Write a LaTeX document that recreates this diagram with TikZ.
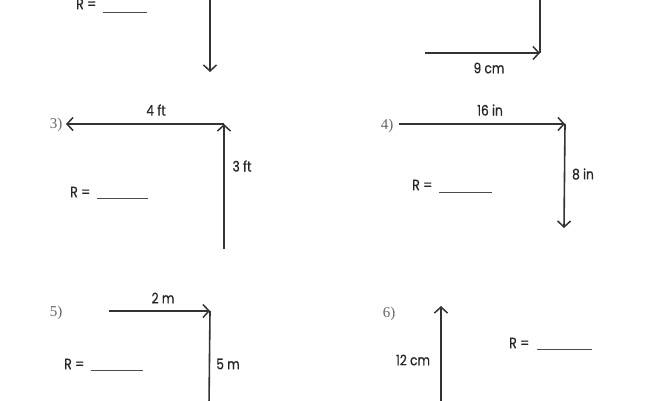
\documentclass[tikz,border=0pt]{standalone}
\usepackage{fontspec}
\setmainfont{Poppins}[FakeStretch=0.84,FakeBold=0.6]
\newfontfamily\numfont{Liberation Serif}
\usetikzlibrary{arrows.meta}
\tikzset{
  vec/.style={line width=1.6pt, draw=black!80, -{Straight Barb[length=6pt,width=13pt,line width=1.5pt]}},
  seg/.style={line width=1.6pt, draw=black!80},
  lbl/.style={font=\fontsize{14.5}{16}\selectfont, text=black!85, inner sep=0pt},
  rlbl/.style={font=\fontsize{15}{17}\selectfont, text=black!85, inner sep=0pt, anchor=west},
  num/.style={font=\numfont\fontsize{15}{16}\selectfont, text=black!60, inner sep=0pt},
  blank/.style={line width=0.9pt, draw=black!70}
}
\begin{document}
\begin{tikzpicture}[x=1pt,y=-1pt]
\useasboundingbox (0,0) rectangle (650,400);
\clip (0,0) rectangle (650,400);
% Panel 1
\coordinate (a1s) at (210,-5);
\coordinate (a1e) at (210,72);
\draw[vec] (a1s) -- (a1e);
\node[rlbl] (r1) at (76,4) {R =};
\coordinate (b1s) at (103,12); \coordinate (b1e) at (147,12);
\draw[blank] (b1s) -- (b1e);
% Panel 2
\coordinate (a2v) at (540,-5);
\coordinate (a2c) at (540,53);
\coordinate (a2s) at (425,53);
\draw[seg] (a2v) -- (a2c);
\draw[vec] (a2s) -- (a2c);
\node[lbl] (l2) at (489,68) {9 cm};
% Panel 3
\node[num] (n3) at (56,125) {3)};
\coordinate (a3c) at (224,124);
\coordinate (a3l) at (66,124);
\coordinate (a3b) at (224,249);
\draw[vec] (a3c) -- (a3l);
\draw[vec] (a3b) -- (a3c);
\node[lbl] (l3a) at (156,110) {4 ft};
\node[lbl] (l3b) at (242,166) {3 ft};
\node[rlbl] (r3) at (70,192) {R =};
\coordinate (b3s) at (97,198); \coordinate (b3e) at (148,198);
\draw[blank] (b3s) -- (b3e);
% Panel 4
\node[num] (n4) at (387,126) {4)};
\coordinate (a4s) at (399,124);
\coordinate (a4c) at (565,124);
\coordinate (a4b) at (564,228);
\draw[vec] (a4s) -- (a4c);
\draw[vec] (a4c) -- (a4b);
\node[lbl] (l4a) at (490,110) {16 in};
\node[lbl] (l4b) at (583,174) {8 in};
\node[rlbl] (r4) at (412,185) {R =};
\coordinate (b4s) at (439,192); \coordinate (b4e) at (492,192);
\draw[blank] (b4s) -- (b4e);
% Panel 5
\node[num] (n5) at (56,313) {5)};
\coordinate (a5s) at (109,311);
\coordinate (a5c) at (210,311);
\coordinate (a5b) at (209,405);
\draw[vec] (a5s) -- (a5c);
\draw[seg] (a5c) -- (a5b);
\node[lbl] (l5a) at (163,298) {2 m};
\node[lbl] (l5b) at (228,364) {5 m};
\node[rlbl] (r5) at (64,364) {R =};
\coordinate (b5s) at (91,370); \coordinate (b5e) at (143,370);
\draw[blank] (b5s) -- (b5e);
% Panel 6
\node[num] (n6) at (389,314) {6)};
\coordinate (a6s) at (441,405);
\coordinate (a6e) at (441,306);
\draw[vec] (a6s) -- (a6e);
\node[lbl] (l6) at (413,360) {12 cm};
\node[rlbl] (r6) at (509,343) {R =};
\coordinate (b6s) at (537,349); \coordinate (b6e) at (592,349);
\draw[blank] (b6s) -- (b6e);
\end{tikzpicture}
\end{document}
